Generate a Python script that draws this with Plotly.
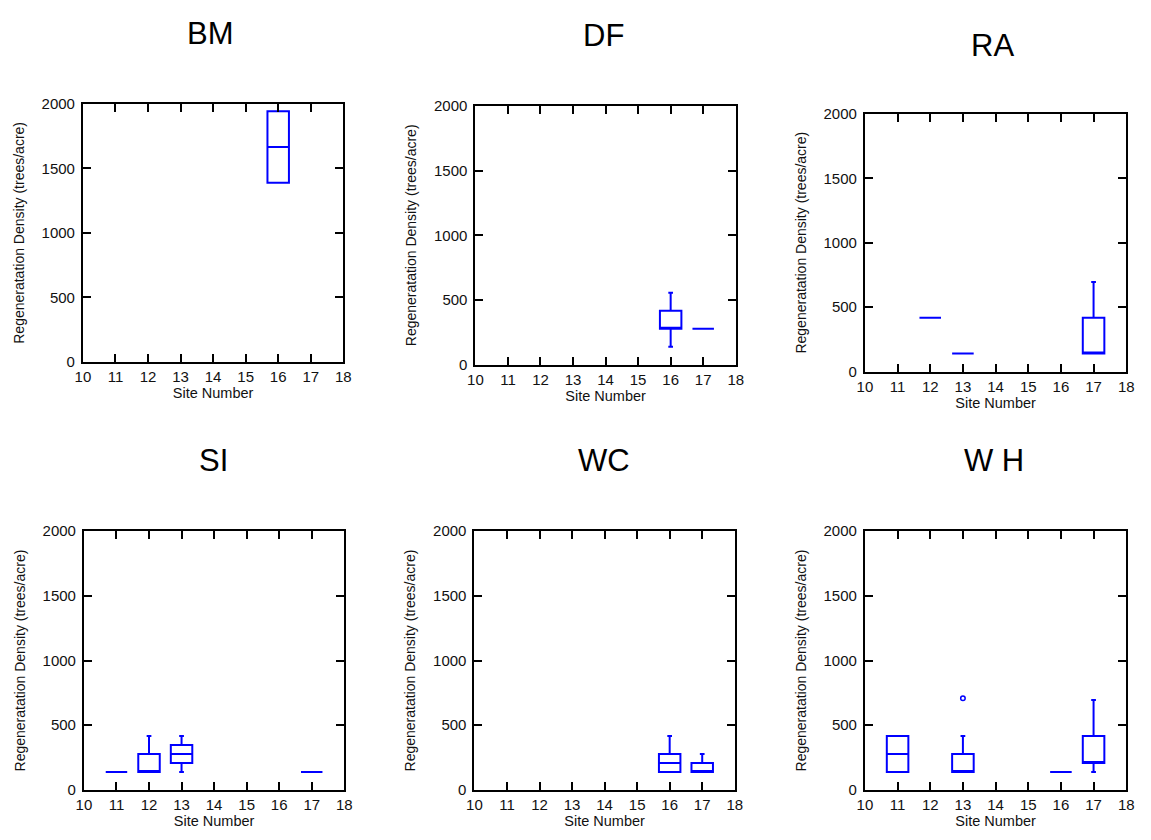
import plotly.graph_objects as go

# Regeneration density summaries (trees/acre) by species and site
species = ["BM", "DF", "DF", "RA", "RA", "RA", "SI", "SI", "SI", "SI",
           "WC", "WC", "WH", "WH", "WH", "WH"]
site = [16, 16, 17, 12, 13, 17, 11, 12, 13, 17, 16, 17, 11, 13, 16, 17]
low = [1389, 139, 278, 417, 139, 139, 139, 139, 139, 139, 139, 139, 139, 139, 139, 139]
q1 = [1389, 278, 278, 417, 139, 139, 139, 139, 208, 139, 139, 139, 139, 139, 139, 208]
median = [1667, 278, 278, 417, 139, 139, 139, 139, 278, 139, 208, 139, 278, 139, 139, 208]
q3 = [1944, 417, 278, 417, 139, 417, 139, 278, 347, 139, 278, 208, 417, 278, 139, 417]
high = [1944, 556, 278, 417, 139, 694, 139, 417, 417, 139, 417, 278, 417, 417, 139, 694]

# Outlying observations
outlier_species = ["WH"]
outlier_site = [13]
outlier_value = [708]

panel_order = ["BM", "DF", "RA", "SI", "WC", "WH"]
panel_titles = ["BM", "DF", "RA", "SI", "WC", "W H"]

x_range = [10, 18]
y_range = [0, 2000]
x_ticks = [10, 11, 12, 13, 14, 15, 16, 17, 18]
y_ticks = [0, 500, 1000, 1500, 2000]
x_title = "Site Number"
y_title = "Regeneratation Density (trees/acre)"

W, H = 1151, 840
# panel boxes in pixels: left, right, top, bottom
panel_px = [
    (76, 340, 97, 360),
    (474, 738, 99, 363),
    (869, 1134, 107, 370),
    (77, 341, 533, 797),
    (473, 737, 533, 797),
    (869, 1134, 533, 797),
]
title_px = [(205, 25), (604, 27), (998, 37), (208, 461), (604, 461), (1000, 461)]

FONT = "Liberation Sans, Arial, Helvetica, sans-serif"
BLUE = "#0000ff"

fig = go.Figure()
layout = dict(
    width=W, height=H,
    margin=dict(l=0, r=0, t=0, b=0),
    paper_bgcolor="white", plot_bgcolor="white",
    showlegend=False,
    boxmode="overlay",
    font=dict(family=FONT, color="black"),
    annotations=[],
)

for i, sp in enumerate(panel_order):
    n = i + 1
    xa = "x" if n == 1 else f"x{n}"
    ya = "y" if n == 1 else f"y{n}"
    idx = [k for k, s in enumerate(species) if s == sp]
    fig.add_trace(go.Box(
        x=[site[k] for k in idx],
        lowerfence=[low[k] for k in idx],
        q1=[q1[k] for k in idx],
        median=[median[k] for k in idx],
        q3=[q3[k] for k in idx],
        upperfence=[high[k] for k in idx],
        width=0.66,
        whiskerwidth=0.22,
        line=dict(color=BLUE, width=2),
        fillcolor="rgba(0,0,0,0)",
        boxpoints=False,
        hoverinfo="skip",
        xaxis=xa, yaxis=ya,
    ))
    oidx = [k for k, s in enumerate(outlier_species) if s == sp]
    if oidx:
        fig.add_trace(go.Scatter(
            x=[outlier_site[k] for k in oidx],
            y=[outlier_value[k] for k in oidx],
            mode="markers",
            marker=dict(symbol="circle-open", size=4.5, color=BLUE,
                        line=dict(width=1.5, color=BLUE)),
            hoverinfo="skip",
            xaxis=xa, yaxis=ya,
        ))

    l, r, t, b = panel_px[i]
    axis_common = dict(
        showgrid=False, zeroline=False,
        showline=True, linecolor="black", linewidth=2,
        mirror="ticks", ticks="inside", ticklen=8, tickwidth=2,
        tickcolor="black",
        tickfont=dict(family=FONT, size=15, color="#111"),
    )
    layout["xaxis" if n == 1 else f"xaxis{n}"] = dict(
        axis_common,
        domain=[l / W, r / W], anchor=ya,
        range=x_range, tickvals=x_ticks,
        ticklabelstandoff=0,
        title=dict(text=x_title, font=dict(family=FONT, size=14.5, color="#111"),
                   standoff=4),
    )
    layout["yaxis" if n == 1 else f"yaxis{n}"] = dict(
        axis_common,
        domain=[1 - b / H, 1 - t / H], anchor=xa,
        range=y_range, tickvals=y_ticks,
        ticklabelstandoff=3,
        title=dict(text=y_title, font=dict(family=FONT, size=14, color="#111"),
                   standoff=14),
    )
    tx, ty = title_px[i]
    layout["annotations"].append(dict(
        text=panel_titles[i], x=tx / W, y=1 - ty / H,
        xref="paper", yref="paper", xanchor="center", yanchor="middle",
        showarrow=False, font=dict(family=FONT, size=31, color="black"),
    ))

fig.update_layout(**layout)
fig.write_html("out.html")
